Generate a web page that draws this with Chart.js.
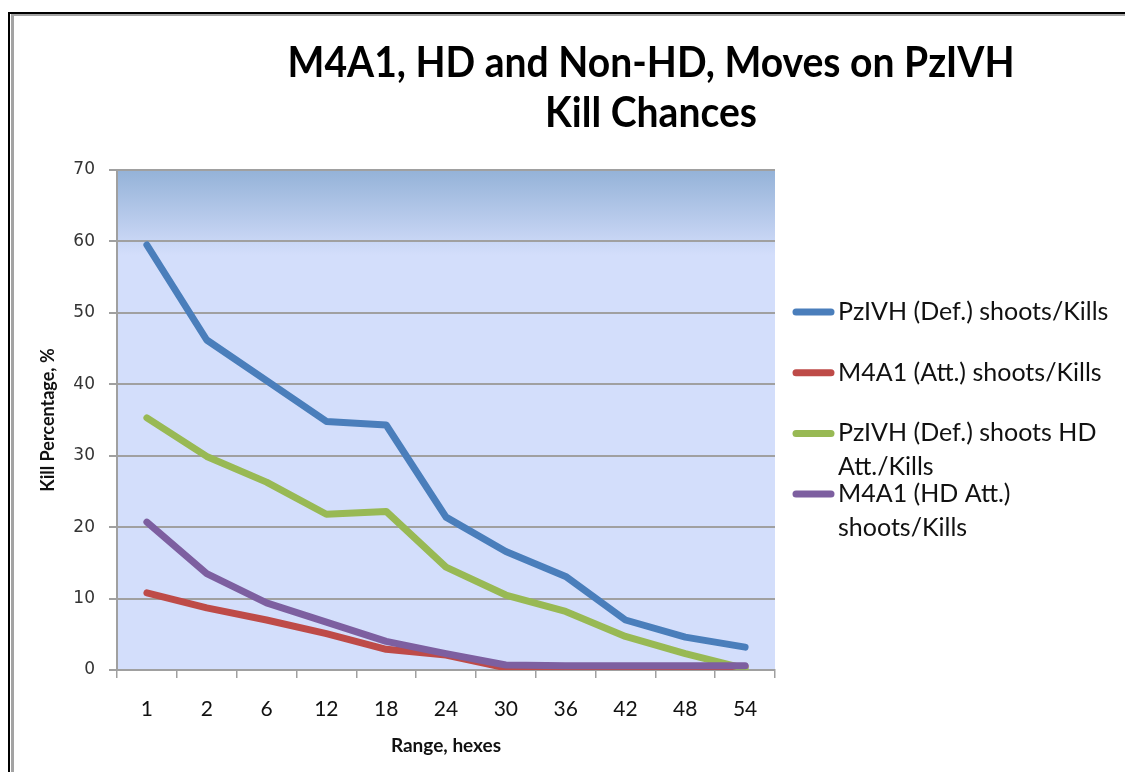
<!DOCTYPE html>
<html>
<head>
<meta charset="utf-8">
<script src="https://cdn.jsdelivr.net/npm/chart.js@4.4.1/dist/chart.umd.min.js"></script>
<style>
  html, body { margin: 0; padding: 0; background: #fff; overflow: hidden; }
  #wrap { position: relative; width: 1125px; height: 772px; }
  .frameA { position: absolute; left: 8px; top: 12px; right: -10px; bottom: -10px; border-left: 2px solid #000; border-top: 2px solid #000; }
  .frameB { position: absolute; left: 11px; top: 14px; right: -10px; bottom: -10px; border-left: 3px solid #a3a3a3; border-top: 2px solid #a3a3a3; }
  canvas { position: absolute; left: 0; top: 0; }
</style>
</head>
<body>
<div id="wrap">
  <div class="frameA"></div>
  <div class="frameB"></div>
  <canvas id="chart1" width="1125" height="772"></canvas>
</div>
<script>
const ranges = ['1', '2', '6', '12', '18', '24', '30', '36', '42', '48', '54'];

const pzDefKills = [59.5, 46.2, 40.5, 34.8, 34.3, 21.4, 16.6, 13.1, 7.0, 4.6, 3.2];
const m4AttKills = [10.8, 8.7, 7.0, 5.1, 2.9, 2.1, 0.3, 0.4, 0.5, 0.5, 0.5];
const pzDefHdKills = [35.3, 29.9, 26.3, 21.8, 22.2, 14.4, 10.5, 8.2, 4.7, 2.3, 0.2];
const m4HdAttKills = [20.7, 13.5, 9.4, 6.7, 4.0, 2.3, 0.7, 0.6, 0.6, 0.6, 0.6];

const seriesNames = [
    'PzIVH (Def.) shoots/Kills',
    'M4A1 (Att.) shoots/Kills',
    'PzIVH (Def.) shoots HD\nAtt./Kills',
    'M4A1 (HD Att.)\nshoots/Kills'
];
const seriesColors = ['#4a7ebb', '#be4b48', '#98b954', '#7d5fa0'];
const seriesData = [pzDefKills, m4AttKills, pzDefHdKills, m4HdAttKills];

const titleLines = ['M4A1, HD and Non-HD, Moves on PzIVH', 'Kill Chances'];
const yTicks = [0, 10, 20, 30, 40, 50, 60, 70];

// plot background with the darker band on top
const plotBg = {
    id: 'plotBg',
    beforeDraw(chart) {
        const {ctx, chartArea: a} = chart;
        const g = ctx.createLinearGradient(0, a.top, 0, a.bottom);
        g.addColorStop(0, '#94b2d8');
        g.addColorStop(0.13, '#c4d3f2');
        g.addColorStop(0.17, '#d3defb');
        g.addColorStop(1, '#d3defb');
        ctx.save();
        ctx.fillStyle = g;
        ctx.fillRect(a.left, a.top, a.right - a.left, a.bottom - a.top);
        ctx.restore();
    }
};

// title, a bit narrow like the original
const headline = {
    id: 'headline',
    afterDraw(chart) {
        const ctx = chart.ctx;
        ctx.save();
        ctx.translate(651, 0);
        ctx.scale(0.93, 1);
        ctx.fillStyle = '#000';
        ctx.font = 'bold 42px Lato';
        ctx.textAlign = 'center';
        ctx.textBaseline = 'middle';
        titleLines.forEach((t, i) => ctx.fillText(t, 0, 63 + i * 50));
        ctx.restore();
    }
};

const sideLegend = {
    id: 'sideLegend',
    afterDraw(chart) {
        const {ctx, chartArea: a} = chart;
        const x = a.right + 18;
        ctx.save();
        chart.data.datasets.forEach((ds, i) => {
            const y = a.top + 142 + i * 60.7;
            ctx.strokeStyle = ds.borderColor;
            ctx.lineWidth = 7;
            ctx.lineCap = 'round';
            ctx.beginPath();
            ctx.moveTo(x + 3, y);
            ctx.lineTo(x + 38, y);
            ctx.stroke();
            ctx.fillStyle = '#111';
            ctx.font = '25px Lato';
            ctx.textAlign = 'left';
            ctx.textBaseline = 'middle';
            seriesNames[i].split('\n').forEach((line, k) => {
                ctx.fillText(line, x + 45, y + k * 33.5);
            });
        });
        ctx.restore();
    }
};

const chart1 = document.getElementById('chart1').getContext('2d');
const Chart1 = new Chart(chart1, {
    type: 'line',
    data: {
        labels: ranges,
        datasets: seriesData.map((d, i) => ({
            label: seriesNames[i].replace('\n', ' '),
            data: d,
            borderColor: seriesColors[i],
            backgroundColor: seriesColors[i],
            borderWidth: 7,
            borderCapStyle: 'round',
            borderJoinStyle: 'round',
            pointRadius: 0,
            tension: 0,
            order: seriesData.length - i
        }))
    },
    options: {
        responsive: false,
        animation: false,
        layout: {
            padding: { left: 37, top: 170, right: 350, bottom: 10 }
        },
        plugins: {
            legend: { display: false },
            tooltip: { enabled: false }
        },
        scales: {
            x: {
                offset: true,
                afterFit(scale) { scale.height = 92; },
                grid: {
                    offset: true,
                    drawOnChartArea: false,
                    color: '#a0a0a0',
                    lineWidth: 1.5,
                    tickLength: 8
                },
                border: { color: '#a0a0a0', width: 2 },
                ticks: {
                    padding: 19,
                    color: '#111',
                    font: { family: 'Lato', size: 21 }
                },
                title: {
                    display: true,
                    text: 'Range, hexes',
                    color: '#111',
                    font: { family: 'Lato', size: 19, weight: 'bold' },
                    padding: { top: 0, bottom: 5 }
                }
            },
            y: {
                min: 0,
                max: 70,
                afterFit(scale) { scale.width = 80; },
                afterBuildTicks(scale) { scale.ticks = yTicks.map(v => ({ value: v })); },
                grid: {
                    color: '#a0a0a0',
                    lineWidth: 2,
                    tickLength: 8
                },
                border: { color: '#a0a0a0', width: 2 },
                ticks: {
                    padding: 14,
                    color: '#333',
                    font: { family: 'DejaVu Sans', size: 17 }
                },
                title: {
                    display: true,
                    text: 'Kill Percentage, %',
                    color: '#111',
                    font: { family: 'Lato', size: 18, weight: 'bold' },
                    padding: { top: 0, bottom: 0 }
                }
            }
        }
    },
    plugins: [plotBg, headline, sideLegend]
});
</script>
</body>
</html>
